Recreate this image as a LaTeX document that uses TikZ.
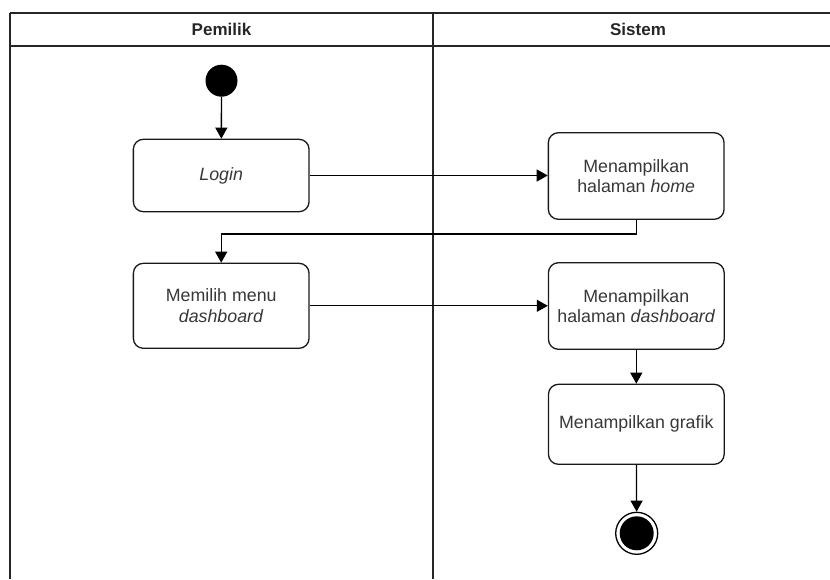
\documentclass[tikz,border=0pt]{standalone}
\usepackage{fontspec}
\setmainfont{Liberation Sans}
\usetikzlibrary{arrows.meta}
\begin{document}
\begin{tikzpicture}[x=1pt,y=-1pt,
  lane/.style={draw=black!85,line width=1.6pt},
  action/.style={draw=black!90,line width=1.3pt,rounded corners=10pt,fill=white,
    minimum width=175.7pt,inner sep=0pt,align=center,text=black!78,
    font=\fontsize{17.8}{20.5}\selectfont},
  flow/.style={draw=black,line width=1.3pt,-{Triangle[length=11pt,width=12pt]}},
  lanetitle/.style={font=\bfseries\fontsize{17}{20}\selectfont,text=black!85}]
\useasboundingbox (0,0) rectangle (830,579);

% swimlanes
\draw[lane] (10,12.7) -- (843,12.7);
\draw[lane] (10,46) -- (843,46);
\draw[lane] (10,12.7) -- (10,579);
\draw[lane] (433,12.7) -- (433,579);
\node[lanetitle] (lanePemilik) at (221.5,29.5) {Pemilik};
\node[lanetitle] (laneSistem) at (638,29.5) {Sistem};

% initial and final states
\node[circle,fill=black,minimum size=32pt,inner sep=0pt] (start) at (221.5,80.7) {};
\node[circle,draw=black,line width=1.3pt,fill=white,minimum size=42pt,inner sep=0pt] (final) at (636.7,533.3) {};
\node[circle,fill=black,minimum size=34pt,inner sep=0pt] (finalcore) at (final.center) {};

% actions
\node[action,minimum height=72.4pt] (login) at (221.2,175.5) {\itshape Login};
\node[action,minimum height=86.6pt] (home) at (636.2,176) {Menampilkan\\halaman \textit{home}};
\node[action,minimum height=85pt] (menu) at (221.2,305.8) {Memilih menu\\\textit{dashboard}};
\node[action,minimum height=86.6pt] (dash) at (636.3,306) {Menampilkan\\halaman \textit{dashboard}};
\node[action,minimum height=80pt] (grafik) at (636.3,424.3) {Menampilkan grafik};

\coordinate (turnA) at (home.south |- 0,234);
\coordinate (turnB) at (menu.north |- 0,234);

% control flow
\draw[flow] (start) -- (login);
\draw[flow] (login.east) -- (home.west |- login.east);
\draw[flow] (home.south) -- (turnA) -- (turnB) -- (menu.north);
\draw[flow] (menu.east) -- (dash.west |- menu.east);
\draw[flow] (dash) -- (grafik);
\draw[flow] (grafik) -- (final);
\end{tikzpicture}
\end{document}
